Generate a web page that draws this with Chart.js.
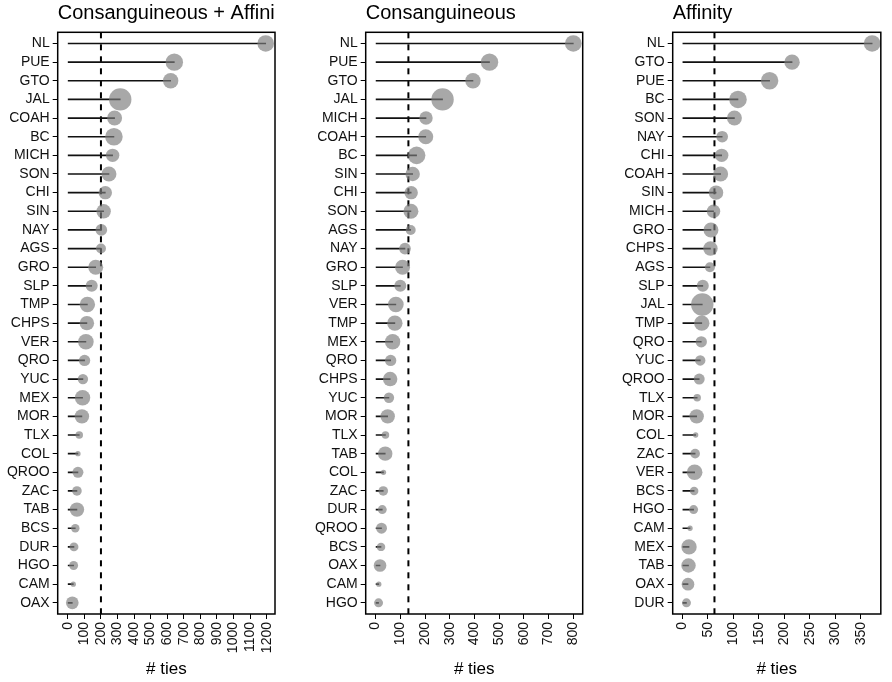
<!DOCTYPE html>
<html>
<head>
<meta charset="utf-8">
<script src="https://cdn.jsdelivr.net/npm/chart.js@4.4.1/dist/chart.umd.min.js"></script>
<style>
  body { margin: 0; background: #fff; width: 892px; height: 682px; overflow: hidden; position: relative; }
  canvas { position: absolute; top: 0; }
</style>
</head>
<body>
<canvas id="panelBoth" width="290" height="682" style="left:0px"></canvas>
<canvas id="panelCons" width="300" height="682" style="left:300px"></canvas>
<canvas id="panelAff" width="292" height="682" style="left:600px"></canvas>
<script>
// ties per state, each panel sorted high -> low

const statesBoth = ['NL', 'PUE', 'GTO', 'JAL', 'COAH', 'BC', 'MICH', 'SON', 'CHI', 'SIN', 'NAY', 'AGS', 'GRO', 'SLP', 'TMP', 'CHPS',
    'VER', 'QRO', 'YUC', 'MEX', 'MOR', 'TLX', 'COL', 'QROO', 'ZAC', 'TAB', 'BCS', 'DUR', 'HGO', 'CAM', 'OAX']
const tiesBoth = [1194, 643, 621, 317, 283, 279, 271, 249, 227, 217, 203, 201, 169, 145, 119, 116,
    110, 102, 92, 90, 86, 70, 62, 62, 56, 56, 46, 38, 36, 34, 28]

const statesCons = ['NL', 'PUE', 'GTO', 'JAL', 'MICH', 'COAH', 'BC', 'SIN', 'CHI', 'SON', 'AGS', 'NAY', 'GRO', 'SLP', 'VER', 'TMP',
    'MEX', 'QRO', 'CHPS', 'YUC', 'MOR', 'TLX', 'TAB', 'COL', 'ZAC', 'DUR', 'QROO', 'BCS', 'OAX', 'CAM', 'HGO']
const tiesCons = [800, 461, 394, 271, 204, 203, 166, 150, 144, 143, 142, 119, 109, 100, 82, 78,
    69, 61, 59, 54, 49, 40, 39, 32, 31, 27, 24, 22, 18, 13, 12]

const statesAff = ['NL', 'GTO', 'PUE', 'BC', 'SON', 'NAY', 'CHI', 'COAH', 'SIN', 'MICH', 'GRO', 'CHPS', 'AGS', 'SLP', 'JAL', 'TMP',
    'QRO', 'YUC', 'QROO', 'TLX', 'MOR', 'COL', 'ZAC', 'VER', 'BCS', 'HGO', 'CAM', 'MEX', 'TAB', 'OAX', 'DUR']
const tiesAff = [372, 215, 171, 109, 102, 78, 77, 75, 66, 61, 56, 55, 54, 40, 39, 38,
    37, 35, 33, 29, 28, 26, 25, 24, 23, 22, 15, 13, 12, 11, 8]

// relative weight of each state (drives the bubble size)
const weightStates = ['JAL', 'BC', 'PUE', 'NL', 'VER', 'GTO', 'TMP', 'MEX', 'COAH', 'SON', 'GRO', 'SIN', 'CHPS', 'MOR', 'TAB', 'MICH',
    'CHI', 'OAX', 'SLP', 'NAY', 'QRO', 'QROO', 'YUC', 'AGS', 'ZAC', 'DUR', 'HGO', 'BCS', 'TLX', 'COL', 'CAM']
const weightValues = [125, 77, 76, 69, 61, 59, 59, 59, 56, 56, 56, 52, 52, 52, 52, 45,
    45, 40, 36, 34, 32, 30, 27, 25, 23, 20, 20, 18, 14, 7, 7]

const ticksBoth = [0, 100, 200, 300, 400, 500, 600, 700, 800, 900, 1000, 1100, 1200]
const ticksCons = [0, 100, 200, 300, 400, 500, 600, 700, 800]
const ticksAff = [0, 50, 100, 150, 200, 250, 300, 350]

const fontFamily = '"Liberation Sans", Arial, Helvetica, sans-serif'
const dotColor = 'rgba(125,125,125,0.67)'

const panelFrame = {
    id: 'panelFrame',
    afterDraw: function (chart, args, opts) {
        const { ctx, chartArea } = chart
        ctx.save()
        ctx.strokeStyle = '#000'
        ctx.lineWidth = 1.5
        ctx.strokeRect(chartArea.left, chartArea.top, chartArea.right - chartArea.left, chartArea.bottom - chartArea.top)
        ctx.fillStyle = '#000'
        ctx.font = '20px ' + fontFamily
        ctx.textAlign = 'left'
        ctx.textBaseline = 'alphabetic'
        ctx.fillText(opts.title, chartArea.left, 19)
        ctx.restore()
    }
}

function weightOf(state) {
    return weightValues[weightStates.indexOf(state)]
}

function makePanel(canvasId, title, states, ties, xTicks, xMin, xMax, axisWidth, rightPad) {
    const mean = ties.reduce((a, b) => a + b, 0) / ties.length
    const n = states.length

    new Chart(document.getElementById(canvasId), {
        type: 'bubble',
        data: {
            datasets: [
                {
                    type: 'line',
                    order: 3,
                    data: [{ x: mean, y: -0.6 }, { x: mean, y: n - 0.4 }],
                    borderColor: '#000',
                    borderWidth: 2,
                    borderDash: [6, 6],
                    pointRadius: 0
                },
                {
                    type: 'bar',
                    order: 2,
                    indexAxis: 'y',
                    data: states.map((s, i) => ({ x: [0, ties[i]], y: i })),
                    backgroundColor: '#111',
                    barThickness: 1,
                    borderWidth: 0
                },
                {
                    order: 1,
                    data: states.map((s, i) => ({ x: ties[i], y: i, r: Math.sqrt(weightOf(s)) })),
                    backgroundColor: dotColor,
                    borderWidth: 0,
                    clip: false
                }
            ]
        },
        options: {
            responsive: false,
            animation: false,
            events: [],
            layout: { padding: { top: 32.3, right: rightPad, left: 0, bottom: 0 } },
            plugins: {
                legend: { display: false },
                tooltip: { enabled: false },
                panelFrame: { title: title }
            },
            scales: {
                x: {
                    type: 'linear',
                    offset: false,
                    min: xMin,
                    max: xMax,
                    afterBuildTicks: function (axis) {
                        axis.ticks = xTicks.map(v => ({ value: v }))
                    },
                    afterFit: function (axis) {
                        axis.height = 68
                    },
                    ticks: {
                        autoSkip: false,
                        minRotation: 90,
                        maxRotation: 90,
                        padding: 3,
                        color: '#111',
                        font: { family: fontFamily, size: 14 },
                        callback: function (value) {
                            return String(value)
                        }
                    },
                    grid: { offset: false, drawOnChartArea: false, drawTicks: true, tickLength: 5, color: '#000', lineWidth: 1 },
                    border: { display: false },
                    title: {
                        display: true,
                        text: '# ties',
                        color: '#000',
                        font: { family: fontFamily, size: 17 },
                        padding: { top: 0, bottom: 2 }
                    }
                },
                y: {
                    type: 'linear',
                    offset: false,
                    reverse: true,
                    min: -0.6,
                    max: n - 0.4,
                    afterBuildTicks: function (axis) {
                        axis.ticks = states.map((s, i) => ({ value: i }))
                    },
                    afterFit: function (axis) {
                        axis.width = axisWidth
                    },
                    ticks: {
                        autoSkip: false,
                        padding: 3,
                        color: '#111',
                        font: { family: fontFamily, size: 14 },
                        callback: function (value) {
                            return states[value]
                        }
                    },
                    grid: { offset: false, drawOnChartArea: false, drawTicks: true, tickLength: 5, color: '#000', lineWidth: 1 },
                    border: { display: false }
                }
            }
        },
        plugins: [panelFrame]
    })
}

makePanel('panelBoth', 'Consanguineous + Affini', statesBoth, tiesBoth, ticksBoth, -60, 1250, 57.7, 15)
makePanel('panelCons', 'Consanguineous', statesCons, tiesCons, ticksCons, -40, 838, 65.7, 17.3)
makePanel('panelAff', 'Affinity', statesAff, tiesAff, ticksAff, -19, 389, 72.7, 2.7)
</script>
</body>
</html>
